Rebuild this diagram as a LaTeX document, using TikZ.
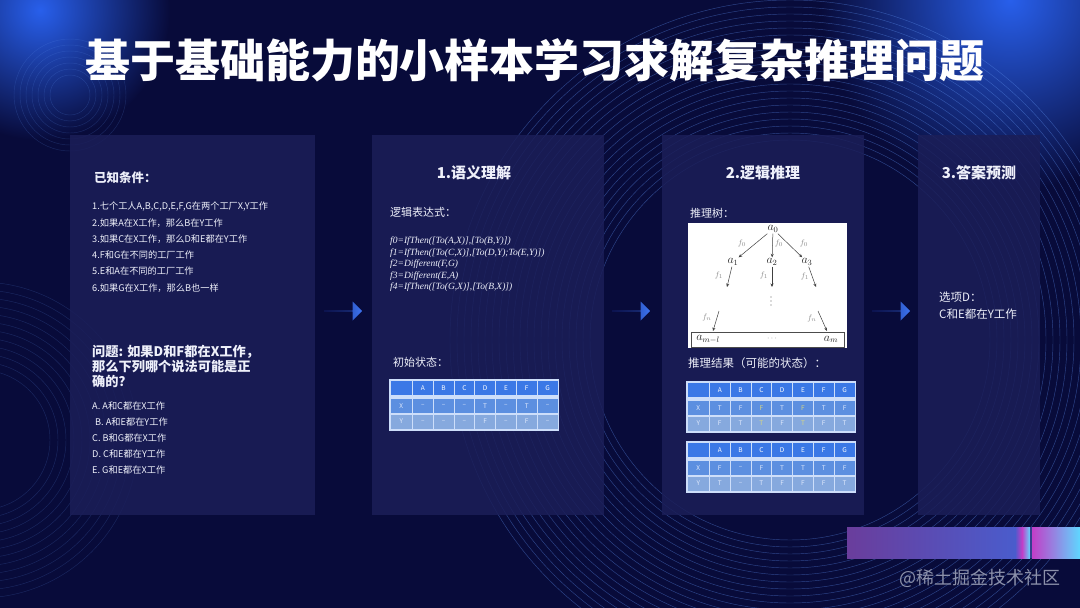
\documentclass[tikz,border=0pt]{standalone}
\usepackage[no-math]{fontspec}
\setmainfont{Noto Sans CJK SC}
\newfontfamily\fml{Liberation Serif}
\usetikzlibrary{shapes.arrows,arrows.meta}
\definecolor{bg}{RGB}{8,11,58}
\definecolor{panelc}{RGB}{27,30,88}
\definecolor{glow}{RGB}{40,95,235}
\definecolor{arcc}{RGB}{90,140,235}
\definecolor{txtc}{RGB}{238,240,250}
\definecolor{hdr}{RGB}{59,120,230}
\definecolor{rowx}{RGB}{92,143,224}
\definecolor{rowy}{RGB}{134,169,222}
\definecolor{cellline}{RGB}{205,222,250}
\definecolor{celltxt}{RGB}{222,232,252}
\definecolor{ylw}{RGB}{215,215,130}
\definecolor{arrowL}{RGB}{20,35,120}
\definecolor{arrowR}{RGB}{60,115,240}
\definecolor{barA}{RGB}{106,61,156}
\definecolor{barB}{RGB}{74,92,204}
\definecolor{barM}{RGB}{194,62,200}
\definecolor{barC}{RGB}{95,215,255}
\definecolor{wmark}{RGB}{140,145,170}
\newcommand\yl[1]{\textcolor{ylw}{#1}}
\tikzset{
  panel/.style={fill=panelc, fill opacity=0.86, draw=none, anchor=north west, inner sep=0pt},
  txt/.style={anchor=west, inner sep=0pt, text=txtc},
  ctr/.style={anchor=center, inner sep=0pt, text=txtc},
  fs9/.style={font=\fontsize{9.2}{9.2}\selectfont},
  fs11/.style={font=\fontsize{11}{11}\selectfont},
  fs12b/.style={font=\fontsize{12.5}{12.5}\selectfont\bfseries},
  fsqb/.style={font=\fontsize{13.2}{13.2}\selectfont\bfseries},
  fs15b/.style={font=\fontsize{15}{15}\selectfont\bfseries},
  fmlx/.style={anchor=west, inner sep=0pt, text=txtc, font=\fontsize{9.5}{9.5}\fml\itshape},
  flowarrow/.style={single arrow, draw=none, left color=arrowL, right color=arrowR,
    minimum height=38pt, minimum width=19pt, single arrow head extend=4pt, inner sep=0pt},
  cellbase/.style={draw=cellline, line width=0.7pt, minimum width=20.8pt, minimum height=15pt,
    inner sep=0pt, anchor=north west, font=\fontsize{6.5}{6.5}\selectfont},
  hcell/.style={cellbase, fill=hdr, text=white},
  xcell/.style={cellbase, fill=rowx, text=celltxt},
  ycell/.style={cellbase, fill=rowy, text=celltxt},
  tnode/.style={inner sep=1pt, text=black!85, font=\fontsize{12}{12}\selectfont},
  flab/.style={inner sep=0pt, text=black!45, font=\fontsize{8}{8}\selectfont},
  tarr/.style={draw=black!75, line width=0.5pt, -{Stealth[length=3.5pt,width=3pt]}},
  tdot/.style={fill=black!60, draw=none},
  arcline/.style={draw=arcc, line width=0.45pt, draw opacity=0.45},
}
\newcommand\statetab[5]{%
\begin{scope}[shift={(#2,#3)}]
  \fill[cellline] (-1.5,-1.5) rectangle (168.6,50.5);
  \node[hcell, minimum width=22pt] (#1-h0) at (0,0) {};
  \foreach \L [count=\i from 0] in {A,B,C,D,E,F,G} {
    \node[hcell] (#1-h\i) at (22+\i*20.8,0) {\L};
  }
  \node[xcell, minimum width=22pt] (#1-x0) at (0,18) {X};
  \foreach \v [count=\i from 1] in {#4} {
    \node[xcell] (#1-x\i) at (1.2+\i*20.8,18) {\v};
  }
  \node[ycell, minimum width=22pt] (#1-y0) at (0,33.5) {Y};
  \foreach \v [count=\i from 1] in {#5} {
    \node[ycell] (#1-y\i) at (1.2+\i*20.8,33.5) {\v};
  }
\end{scope}}
\begin{document}
\begin{tikzpicture}[x=1pt,y=-1pt]
\useasboundingbox (0,0) rectangle (1080,608);
\clip (0,0) rectangle (1080,608);
\fill[bg] (0,0) rectangle (1080,608);
% glows
\shade[inner color=glow, outer color=bg] (40,10) circle (130);
\shade[inner color=glow, outer color=bg] (1010,0) circle (190);
% concentric arcs
\foreach \r in {200,207,...,345} { \draw[arcline] (790,340) circle (\r); }
\foreach \r in {70,78,...,160} { \draw[arcline, draw opacity=0.22] (-20,440) circle (\r); }
\foreach \r in {20,26,...,60} { \draw[arcline, draw opacity=0.22] (70,95) circle (\r); }

% title
\node[ctr, text=white, font=\fontsize{45}{45}\selectfont\bfseries] (title) at (535,60) {基于基础能力的小样本学习求解复杂推理问题};

% panels
\node[panel, minimum width=245pt, minimum height=380pt] (p1) at (70,135) {};
\node[panel, minimum width=232pt, minimum height=380pt] (p2) at (372,135) {};
\node[panel, minimum width=202pt, minimum height=380pt] (p3) at (662,135) {};
\node[panel, minimum width=122pt, minimum height=380pt] (p4) at (918,135) {};

% arrows between panels
\node[flowarrow] (ar1) at (343,311) {};
\node[flowarrow] (ar2) at (631,311) {};
\node[flowarrow] (ar3) at (891,311) {};

% panel 1
\node[txt, fs12b] (known) at (94,178) {已知条件：};
\node[txt, fs9] (c1) at (92,207) {1.七个工人A,B,C,D,E,F,G在两个工厂X,Y工作};
\node[txt, fs9] (c2) at (92,223) {2.如果A在X工作，那么B在Y工作};
\node[txt, fs9] (c3) at (92,239) {3.如果C在X工作，那么D和E都在Y工作};
\node[txt, fs9] (c4) at (92,255) {4.F和G在不同的工厂工作};
\node[txt, fs9] (c5) at (92,271) {5.E和A在不同的工厂工作};
\node[txt, fs9] (c6) at (92,288) {6.如果G在X工作，那么B也一样};
\node[txt, fsqb] (q1) at (92,352) {问题: 如果D和F都在X工作，};
\node[txt, fsqb] (q2) at (92,366.5) {那么下列哪个说法可能是正};
\node[txt, fsqb] (q3) at (92,381) {确的？};
\node[txt, fs9] (oa) at (92,406) {A. A和C都在X工作};
\node[txt, fs9] (ob) at (95,422) {B. A和E都在Y工作};
\node[txt, fs9] (oc) at (92,438) {C. B和G都在X工作};
\node[txt, fs9] (od) at (92,454) {D. C和E都在Y工作};
\node[txt, fs9] (oe) at (92,470) {E. G和E都在X工作};

% panel 2
\node[ctr, fs15b] (h2) at (474,173) {1.语义理解};
\node[txt, fs11] (expr) at (390,212) {逻辑表达式：};
\node[fmlx] (f0) at (390,241) {f0=IfThen([To(A,X)],[To(B,Y)])};
\node[fmlx] (f1) at (390,253) {f1=IfThen([To(C,X)],[To(D,Y);To(E,Y)])};
\node[fmlx] (f2) at (390,264.5) {f2=Different(F,G)};
\node[fmlx] (f3) at (390,276) {f3=Different(E,A)};
\node[fmlx] (f4) at (390,287.5) {f4=IfThen([To(G,X)],[To(B,X)])};
\node[txt, fs11] (init) at (393,362) {初始状态：};
\statetab{ti}{390}{380}{–,–,–,T,–,T,–}{–,–,–,F,–,F,–}

% panel 3
\node[ctr, fs15b] (h3) at (763,173) {2.逻辑推理};
\node[txt, fs11] (treel) at (690,213) {推理树：};
\node[fill=white, draw=none, anchor=north west, minimum width=159pt, minimum height=125pt, inner sep=0pt] (treebox) at (688,223) {};
\node[draw=black!70, line width=0.6pt, fill=white, minimum width=153pt, minimum height=15pt, inner sep=0pt] (bot) at (767.5,339.5) {};
\node[tnode] (a0) at (773,229) {$a_0$};
\node[tnode] (a1) at (733,262) {$a_1$};
\node[tnode] (a2) at (772,262) {$a_2$};
\node[tnode] (a3) at (807,262) {$a_3$};
\draw[tarr] (a0) -- (a1);
\draw[tarr] (a0) -- (a2);
\draw[tarr] (a0) -- (a3);
\node[flab] (lf01) at (742,243) {$f_0$};
\node[flab] (lf02) at (779,243) {$f_0$};
\node[flab] (lf03) at (804,243) {$f_0$};
\coordinate (e1) at (727,287);
\coordinate (e2) at (772,287);
\coordinate (e3) at (816,287);
\draw[tarr] (a1) -- (e1);
\draw[tarr] (a2) -- (e2);
\draw[tarr] (a3) -- (e3);
\node[flab] (lf11) at (719,275) {$f_1$};
\node[flab] (lf12) at (764,275) {$f_1$};
\node[flab] (lf13) at (805,276) {$f_1$};
\foreach \yy in {297,301,305} { \fill[tdot] (771,\yy) circle (0.6); }
\coordinate (s1) at (719,311);
\coordinate (t1) at (713,331);
\coordinate (s2) at (818,311);
\coordinate (t2) at (827,331);
\draw[tarr] (s1) -- (t1);
\draw[tarr] (s2) -- (t2);
\node[flab] (lfn1) at (707,317) {$f_n$};
\node[flab] (lfn2) at (812,318) {$f_n$};
\node[tnode] (aml) at (708,339.5) {$a_{m-l}$};
\node[tnode, text=black!50, font=\fontsize{8}{8}\selectfont] (hd) at (772,339) {$\cdots$};
\node[tnode] (am) at (831,339.5) {$a_m$};
\node[txt, font=\fontsize{11.5}{11.5}\selectfont] (res) at (688,363) {推理结果（可能的状态）：};
\statetab{tr}{687}{382}{T,F,\yl{F},T,\yl{F},T,F}{F,T,\yl{T},F,\yl{T},F,T}
\statetab{ts}{687}{442}{F,–,F,T,T,T,F}{T,–,T,F,F,F,T}

% panel 4
\node[ctr, fs15b] (h4) at (979,173) {3.答案预测};
\node[txt, font=\fontsize{11.5}{11.5}\selectfont] (ans1) at (939,297) {选项D：};
\node[txt, font=\fontsize{11.5}{11.5}\selectfont] (ans2) at (939,314) {C和E都在Y工作};

% bottom right bar
\shade[left color=barA, right color=barB] (847,527) rectangle (1015,558);
\shade[left color=barB, right color=barM] (1015,527) rectangle (1022,558);
\shade[left color=barM, right color=barC] (1022,527) rectangle (1030,558);
\fill[barB!70!black] (1030,527) rectangle (1032,558);
\shade[left color=barM, right color=barC] (1032,527) rectangle (1080,558);
\node[ctr, text=wmark, font=\fontsize{18}{18}\selectfont] (wm) at (980,578) {@稀土掘金技术社区};
\end{tikzpicture}
\end{document}
